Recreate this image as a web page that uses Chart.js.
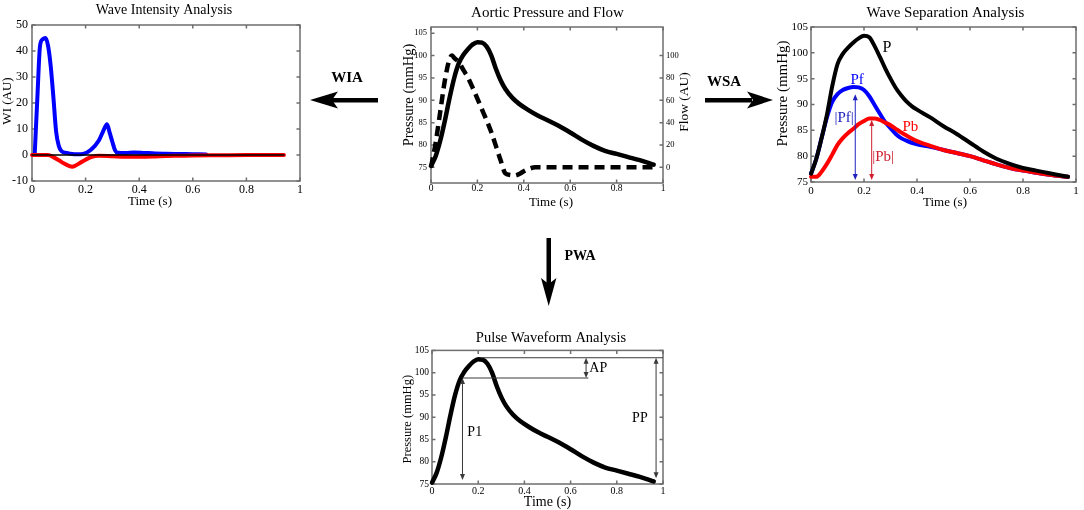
<!DOCTYPE html>
<html>
<head>
<meta charset="utf-8">
<title>Aortic wave analysis</title>
<script src="https://cdn.jsdelivr.net/npm/chart.js@4.4.1/dist/chart.umd.min.js"></script>
<style>
    html, body { margin: 0; padding: 0; background: #fff; }
    #fig { position: relative; width: 1084px; height: 510px; overflow: hidden; font-family: "Liberation Serif", "Times New Roman", serif; }
    #fig canvas { position: absolute; }
    #fig svg { position: absolute; left: 0; top: 0; }
    .step { position: absolute; font-weight: bold; font-size: 15px; line-height: 1; transform: translate(-50%, -50%); white-space: nowrap; }
</style>
</head>
<body>
<div id="fig">
    <canvas id="wiaChart"></canvas>
    <canvas id="flowChart"></canvas>
    <canvas id="wsaChart"></canvas>
    <canvas id="pwaChart"></canvas>
    <svg width="1084" height="510">
        <g fill="#000">
            <rect x="332" y="98" width="46" height="4.5"/>
            <polygon points="310,100 338,91.5 332,100 338,108.5"/>
            <rect x="705" y="98" width="47" height="4.5"/>
            <polygon points="773,100 747,91.5 753,100 747,108.5"/>
            <rect x="546.5" y="238" width="4.5" height="46"/>
            <polygon points="548.7,306 541,278 548.7,284 556.4,278"/>
        </g>
    </svg>
    <div class="step" style="left:347px;top:77px">WIA</div>
    <div class="step" style="left:724px;top:81px">WSA</div>
    <div class="step" style="left:580px;top:256px;font-size:14px">PWA</div>
</div>

<script>
// ---- axis ticks ----
const timeTicks = [0, 0.2, 0.4, 0.6, 0.8, 1];
const timeTickLabels = ['0', '0.2', '0.4', '0.6', '0.8', '1'];
const wiTicks = [-10, 0, 10, 20, 30, 40, 50];
const wiTickLabels = ['-10', '0', '10', '20', '30', '40', '50'];
const pressureTicks = [75, 80, 85, 90, 95, 100, 105];
const pressureTickLabels = ['75', '80', '85', '90', '95', '100', '105'];
const flowTicks = [0, 20, 40, 60, 80, 100];
const flowTickLabels = ['0', '20', '40', '60', '80', '100'];

// ---- wave intensity (AU) ----
const wiFwdTime = [0.01, 0.02, 0.03, 0.04, 0.05, 0.06, 0.07, 0.08, 0.09, 0.10, 0.11, 0.13, 0.15, 0.17, 0.19, 0.22, 0.25, 0.265, 0.28, 0.29, 0.30, 0.31, 0.32, 0.35, 0.38, 0.42, 0.46, 0.50, 0.55, 0.60, 0.65];
const wiForward = [0, 22, 42, 44.5, 45, 42, 34, 22, 9, 3.5, 1.5, 0.8, 0.4, 0.3, 0.4, 2, 5.7, 9, 11.8, 8.5, 5, 1.8, 0.9, 0.8, 1, 0.8, 0.6, 0.5, 0.4, 0.3, 0.2];
const wiBackTime = [0, 0.06, 0.08, 0.10, 0.12, 0.14, 0.15, 0.16, 0.18, 0.20, 0.22, 0.25, 0.30, 0.35, 0.40, 0.45, 0.50, 0.55, 0.60, 0.70, 0.80, 0.94];
const wiBackward = [0, 0, -0.8, -2, -3.3, -4.3, -4.5, -4.2, -3, -1.8, -0.8, -0.3, -0.5, -0.7, -0.7, -0.6, -0.4, -0.3, -0.2, -0.1, 0, 0];
const wiBaseTime = [0, 0.94];
const wiBase = [0, 0];

// ---- aortic pressure (mmHg) and flow (AU) ----
const pressTime = [0, 0.02, 0.04, 0.06, 0.08, 0.10, 0.12, 0.14, 0.16, 0.18, 0.20, 0.22, 0.24, 0.26, 0.28, 0.30, 0.32, 0.35, 0.38, 0.42, 0.46, 0.50, 0.55, 0.60, 0.65, 0.70, 0.75, 0.80, 0.85, 0.90, 0.96];
const pressure = [75.3, 77.5, 81, 85.5, 90.5, 95, 98.3, 100.2, 101.5, 102.5, 103, 102.9, 102, 100, 97, 94.5, 92.6, 90.6, 89.2, 87.8, 86.6, 85.6, 84.3, 82.8, 81.2, 79.8, 78.7, 78, 77.3, 76.6, 75.6];
const flowTime = [0, 0.02, 0.04, 0.06, 0.08, 0.09, 0.10, 0.12, 0.14, 0.16, 0.18, 0.20, 0.22, 0.24, 0.26, 0.28, 0.30, 0.32, 0.34, 0.36, 0.38, 0.40, 0.42, 0.45, 0.50, 0.60, 0.70, 0.80, 0.90, 0.97];
const flow = [0, 22, 50, 78, 97, 100, 98, 94, 87, 80, 71, 61.5, 51.7, 42, 31.4, 19, 6.3, -5.3, -6.8, -7.3, -6, -3.5, -1.5, 0, 0, 0, 0, 0, 0, 0];

// ---- wave separation (mmHg) ----
const wsaTime = [0, 0.02, 0.04, 0.06, 0.08, 0.10, 0.12, 0.14, 0.16, 0.18, 0.20, 0.22, 0.24, 0.26, 0.28, 0.30, 0.32, 0.34, 0.36, 0.38, 0.40, 0.45, 0.50, 0.55, 0.60, 0.65, 0.70, 0.75, 0.80, 0.85, 0.90, 0.97];
const wsaP = [76.6, 79.5, 83.5, 88, 93.5, 97.8, 99.8, 101, 102, 102.8, 103.3, 103, 101.3, 99.2, 97, 95, 93.2, 91.8, 90.6, 89.7, 89, 87.5, 85.8, 84.3, 82.6, 80.9, 79.5, 78.5, 77.7, 77.2, 76.7, 76];
const wsaPf = [76.6, 79.5, 83.5, 87.5, 90.5, 92, 92.8, 93.2, 93.4, 93.3, 92.8, 91.6, 89.9, 88.2, 86.6, 85.4, 84.3, 83.5, 83, 82.6, 82.3, 81.8, 81.2, 80.6, 80, 79.2, 78.4, 77.7, 77.2, 76.8, 76.4, 76];
const wsaPb = [76, 76, 77, 78.5, 80.3, 82.2, 83.5, 84.5, 85.3, 86.2, 86.8, 87.3, 87.3, 87, 86.5, 86, 85.3, 84.6, 84, 83.4, 82.9, 82, 81.2, 80.6, 80, 79.2, 78.4, 77.7, 77.2, 76.8, 76.4, 76];

const FONT = '"Liberation Serif", "Times New Roman", serif';
const AXIS_GREY = '#6e6e6e';
Chart.defaults.font.family = FONT;
Chart.defaults.color = '#000';
Chart.defaults.animation = false;

function xy(xs, ys) {
    return xs.map((x, i) => ({ x: x, y: ys[i] }));
}

function series(xs, ys, color, width, extra) {
    return Object.assign({
        data: xy(xs, ys),
        borderColor: color,
        borderWidth: width,
        pointRadius: 0,
        cubicInterpolationMode: 'monotone',
        borderCapStyle: 'round',
        borderJoinStyle: 'round',
        clip: false
    }, extra || {});
}

// box = plot area on the page, m = room left around it for labels
function placeCanvas(id, box, m) {
    const c = document.getElementById(id);
    const w = box.right - box.left + m.l + m.r;
    const h = box.bottom - box.top + m.t + m.b;
    c.width = w;
    c.height = h;
    c.style.width = w + 'px';
    c.style.height = h + 'px';
    c.style.left = (box.left - m.l) + 'px';
    c.style.top = (box.top - m.t) + 'px';
    return c;
}

function fixedAxis(position, values, labels, min, max, fontSize, pad, size) {
    const horizontal = position === 'bottom';
    return {
        type: 'linear',
        position: position,
        min: min,
        max: max,
        afterBuildTicks: s => { s.ticks = values.map(v => ({ value: v })); },
        afterFit: s => { if (horizontal) s.height = size; else s.width = size; },
        grid: { display: false, drawTicks: false },
        border: { display: false },
        ticks: {
            font: { size: fontSize },
            padding: pad,
            maxRotation: 0,
            autoSkip: false,
            callback: (v, i) => labels[i]
        }
    };
}

// MATLAB-like box with inward tick marks
const matlabBox = {
    id: 'matlabBox',
    beforeDatasetsDraw(chart, args, opts) {
        const { ctx, chartArea: a, scales } = chart;
        const len = opts.tickLength || 4;
        ctx.save();
        ctx.strokeStyle = AXIS_GREY;
        ctx.lineWidth = 1.5;
        ctx.strokeRect(a.left, a.top, a.right - a.left, a.bottom - a.top);
        ctx.beginPath();
        scales.x.ticks.forEach(t => {
            const px = scales.x.getPixelForValue(t.value);
            ctx.moveTo(px, a.bottom); ctx.lineTo(px, a.bottom - len);
            ctx.moveTo(px, a.top); ctx.lineTo(px, a.top + len);
        });
        scales.y.ticks.forEach(t => {
            const py = scales.y.getPixelForValue(t.value);
            ctx.moveTo(a.left, py); ctx.lineTo(a.left + len, py);
        });
        scales.y1.ticks.forEach(t => {
            const py = scales.y1.getPixelForValue(t.value);
            ctx.moveTo(a.right, py); ctx.lineTo(a.right - len, py);
        });
        ctx.stroke();
        ctx.restore();
    }
};

// axis titles, placed from the plot edges (MATLAB style, left/right read bottom-up)
const axisTitles = {
    id: 'axisTitles',
    afterDraw(chart, args, opts) {
        const { ctx, chartArea: a } = chart;
        (opts.items || []).forEach(t => {
            ctx.save();
            ctx.font = t.size + 'px ' + FONT;
            ctx.fillStyle = '#000';
            ctx.textAlign = 'center';
            ctx.textBaseline = 'middle';
            if (t.side === 'bottom') {
                ctx.fillText(t.text, (a.left + a.right) / 2 + t.shift, a.bottom + t.gap);
            } else {
                const x = t.side === 'left' ? a.left - t.gap : a.right + t.gap;
                ctx.translate(x, (a.top + a.bottom) / 2 + t.shift);
                ctx.rotate(-Math.PI / 2);
                ctx.fillText(t.text, 0, 0);
            }
            ctx.restore();
        });
    }
};

function arrowHead(ctx, x, y, dir) {
    ctx.beginPath();
    ctx.moveTo(x, y);
    ctx.lineTo(x - 2.5, y - dir * 6);
    ctx.lineTo(x + 2.5, y - dir * 6);
    ctx.closePath();
    ctx.fill();
}

// annotations in data units: guide lines, double arrows, labels
const figureNotes = {
    id: 'figureNotes',
    afterDatasetsDraw(chart, args, opts) {
        const { ctx, scales: { x, y } } = chart;
        (opts.items || []).forEach(it => {
            ctx.save();
            ctx.strokeStyle = ctx.fillStyle = it.color || '#3a3a3a';
            ctx.lineWidth = 1;
            if (it.kind === 'hline') {
                const py = y.getPixelForValue(it.y);
                ctx.beginPath();
                ctx.moveTo(x.getPixelForValue(it.x0), py);
                ctx.lineTo(x.getPixelForValue(it.x1), py);
                ctx.stroke();
            } else if (it.kind === 'span') {
                const px = x.getPixelForValue(it.x);
                const top = y.getPixelForValue(it.y1);
                const bottom = y.getPixelForValue(it.y0);
                ctx.beginPath();
                ctx.moveTo(px, top + 4);
                ctx.lineTo(px, bottom - 4);
                ctx.stroke();
                arrowHead(ctx, px, top, -1);
                arrowHead(ctx, px, bottom, 1);
            } else if (it.kind === 'text') {
                ctx.font = it.size + 'px ' + FONT;
                ctx.textAlign = 'center';
                ctx.textBaseline = 'middle';
                ctx.fillText(it.text, x.getPixelForValue(it.x), y.getPixelForValue(it.y));
            }
            ctx.restore();
        });
    }
};

function makeChart(id, box, m, cfg) {
    const canvas = placeCanvas(id, box, m);
    // right axis: the flow scale, or an unlabelled mirror of the left one
    const right = cfg.y1 || { ticks: cfg.yTicks, labels: cfg.yTicks.map(() => ''), min: cfg.yMin, max: cfg.yMax };
    const scales = {
        x: fixedAxis('bottom', timeTicks, timeTickLabels, 0, 1, cfg.xFont, cfg.xPad, m.b),
        y: fixedAxis('left', cfg.yTicks, cfg.yLabels, cfg.yMin, cfg.yMax, cfg.yFont, cfg.yPad, m.l),
        y1: fixedAxis('right', right.ticks, right.labels, right.min, right.max, cfg.yFont, 3, m.r)
    };
    return new Chart(canvas, {
        type: 'line',
        data: { datasets: cfg.datasets },
        plugins: [matlabBox, axisTitles, figureNotes],
        options: {
            responsive: false,
            scales: scales,
            plugins: {
                legend: { display: false },
                tooltip: { enabled: false },
                title: {
                    display: true,
                    text: cfg.title,
                    color: '#000',
                    font: { size: cfg.titleSize, weight: 'normal' },
                    padding: { top: cfg.titlePad[0], bottom: cfg.titlePad[1] }
                },
                matlabBox: { tickLength: 3.5 },
                axisTitles: { items: cfg.axisTitles },
                figureNotes: { items: cfg.notes || [] }
            }
        }
    });
}

// Wave Intensity Analysis
makeChart('wiaChart', { left: 32, top: 25, right: 300, bottom: 181 }, { l: 32, r: 28, t: 25, b: 30 }, {
    title: 'Wave Intensity Analysis', titleSize: 14, titlePad: [1.6, 6.6],
    xFont: 12, xPad: 2, yFont: 12, yPad: 4,
    yTicks: wiTicks, yLabels: wiTickLabels, yMin: -10, yMax: 50,
    datasets: [
        series(wiBaseTime, wiBase, '#000000', 1.5, { cubicInterpolationMode: 'default', tension: 0 }),
        series(wiBackTime, wiBackward, '#ff0000', 4),
        series(wiFwdTime, wiForward, '#0000ff', 4)
    ],
    axisTitles: [
        { text: 'WI (AU)', side: 'left', gap: 24, shift: -2, size: 13 },
        { text: 'Time (s)', side: 'bottom', gap: 21, shift: -16, size: 13 }
    ]
});

// Aortic Pressure and Flow
makeChart('flowChart', { left: 431, top: 27, right: 663, bottom: 183 }, { l: 45, r: 46, t: 27, b: 30 }, {
    title: 'Aortic Pressure and Flow', titleSize: 15, titlePad: [4, 5],
    xFont: 9.5, xPad: 0, yFont: 8.5, yPad: 4,
    yTicks: pressureTicks, yLabels: pressureTickLabels, yMin: 71.5, yMax: 106.4,
    y1: { ticks: flowTicks, labels: flowTickLabels, min: -14, max: 125.6 },
    datasets: [
        series(pressTime, pressure, '#000000', 4.5),
        series(flowTime, flow, '#000000', 4.5, { yAxisID: 'y1', borderDash: [10, 6], borderCapStyle: 'butt' })
    ],
    axisTitles: [
        { text: 'Pressure (mmHg)', side: 'left', gap: 22, shift: -10, size: 14.5 },
        { text: 'Flow (AU)', side: 'right', gap: 21, shift: -3, size: 13.5 },
        { text: 'Time (s)', side: 'bottom', gap: 20, shift: 4, size: 13 }
    ]
});

// Wave Separation Analysis
makeChart('wsaChart', { left: 811, top: 27, right: 1076, bottom: 182 }, { l: 41, r: 45, t: 27, b: 30 }, {
    title: 'Wave Separation Analysis', titleSize: 15, titlePad: [4, 5],
    xFont: 11, xPad: 3, yFont: 11, yPad: 3,
    yTicks: pressureTicks, yLabels: pressureTickLabels, yMin: 75, yMax: 105,
    datasets: [
        series(wsaTime, wsaP, '#000000', 4),
        series(wsaTime, wsaPb, '#ff0000', 4),
        series(wsaTime, wsaPf, '#0000ff', 4)
    ],
    axisTitles: [
        { text: 'Pressure (mmHg)', side: 'left', gap: 28, shift: -11, size: 15 },
        { text: 'Time (s)', side: 'bottom', gap: 21, shift: 1.5, size: 13 }
    ],
    notes: [
        { kind: 'span', x: 0.167, y0: 75.4, y1: 92, color: '#2020c0' },
        { kind: 'span', x: 0.229, y0: 75.4, y1: 87, color: '#d02030' },
        { kind: 'text', x: 0.287, y: 100.9, text: 'P', size: 16, color: '#000000' },
        { kind: 'text', x: 0.174, y: 94.7, text: 'Pf', size: 15, color: '#0000ff' },
        { kind: 'text', x: 0.375, y: 85.6, text: 'Pb', size: 15, color: '#ff0000' },
        { kind: 'text', x: 0.125, y: 87.4, text: '|Pf|', size: 15, color: '#2020c0' },
        { kind: 'text', x: 0.272, y: 79.8, text: '|Pb|', size: 15, color: '#d02030' }
    ]
});

// Pulse Waveform Analysis
makeChart('pwaChart', { left: 432, top: 351, right: 663, bottom: 484 }, { l: 45, r: 52, t: 27, b: 26 }, {
    title: 'Pulse Waveform Analysis', titleSize: 14.5, titlePad: [5, 4],
    xFont: 10, xPad: 1, yFont: 9.5, yPad: 3,
    yTicks: pressureTicks, yLabels: pressureTickLabels, yMin: 75, yMax: 105,
    datasets: [
        series(pressTime, pressure, '#000000', 4.5)
    ],
    axisTitles: [
        { text: 'Pressure (mmHg)', side: 'left', gap: 24, shift: 2, size: 12.5 },
        { text: 'Time (s)', side: 'bottom', gap: 18, shift: 0, size: 14 }
    ],
    notes: [
        { kind: 'hline', y: 103.35, x0: 0.214, x1: 1 },
        { kind: 'hline', y: 98.8, x0: 0.132, x1: 0.677 },
        { kind: 'span', x: 0.132, y0: 75.9, y1: 98.8 },
        { kind: 'span', x: 0.667, y0: 98.8, y1: 103.35 },
        { kind: 'span', x: 0.97, y0: 76.3, y1: 103.35 },
        { kind: 'text', x: 0.185, y: 86.6, text: 'P1', size: 14, color: '#000000' },
        { kind: 'text', x: 0.72, y: 100.9, text: 'AP', size: 14, color: '#000000' },
        { kind: 'text', x: 0.90, y: 89.8, text: 'PP', size: 14, color: '#000000' }
    ]
});
</script>
</body>
</html>
